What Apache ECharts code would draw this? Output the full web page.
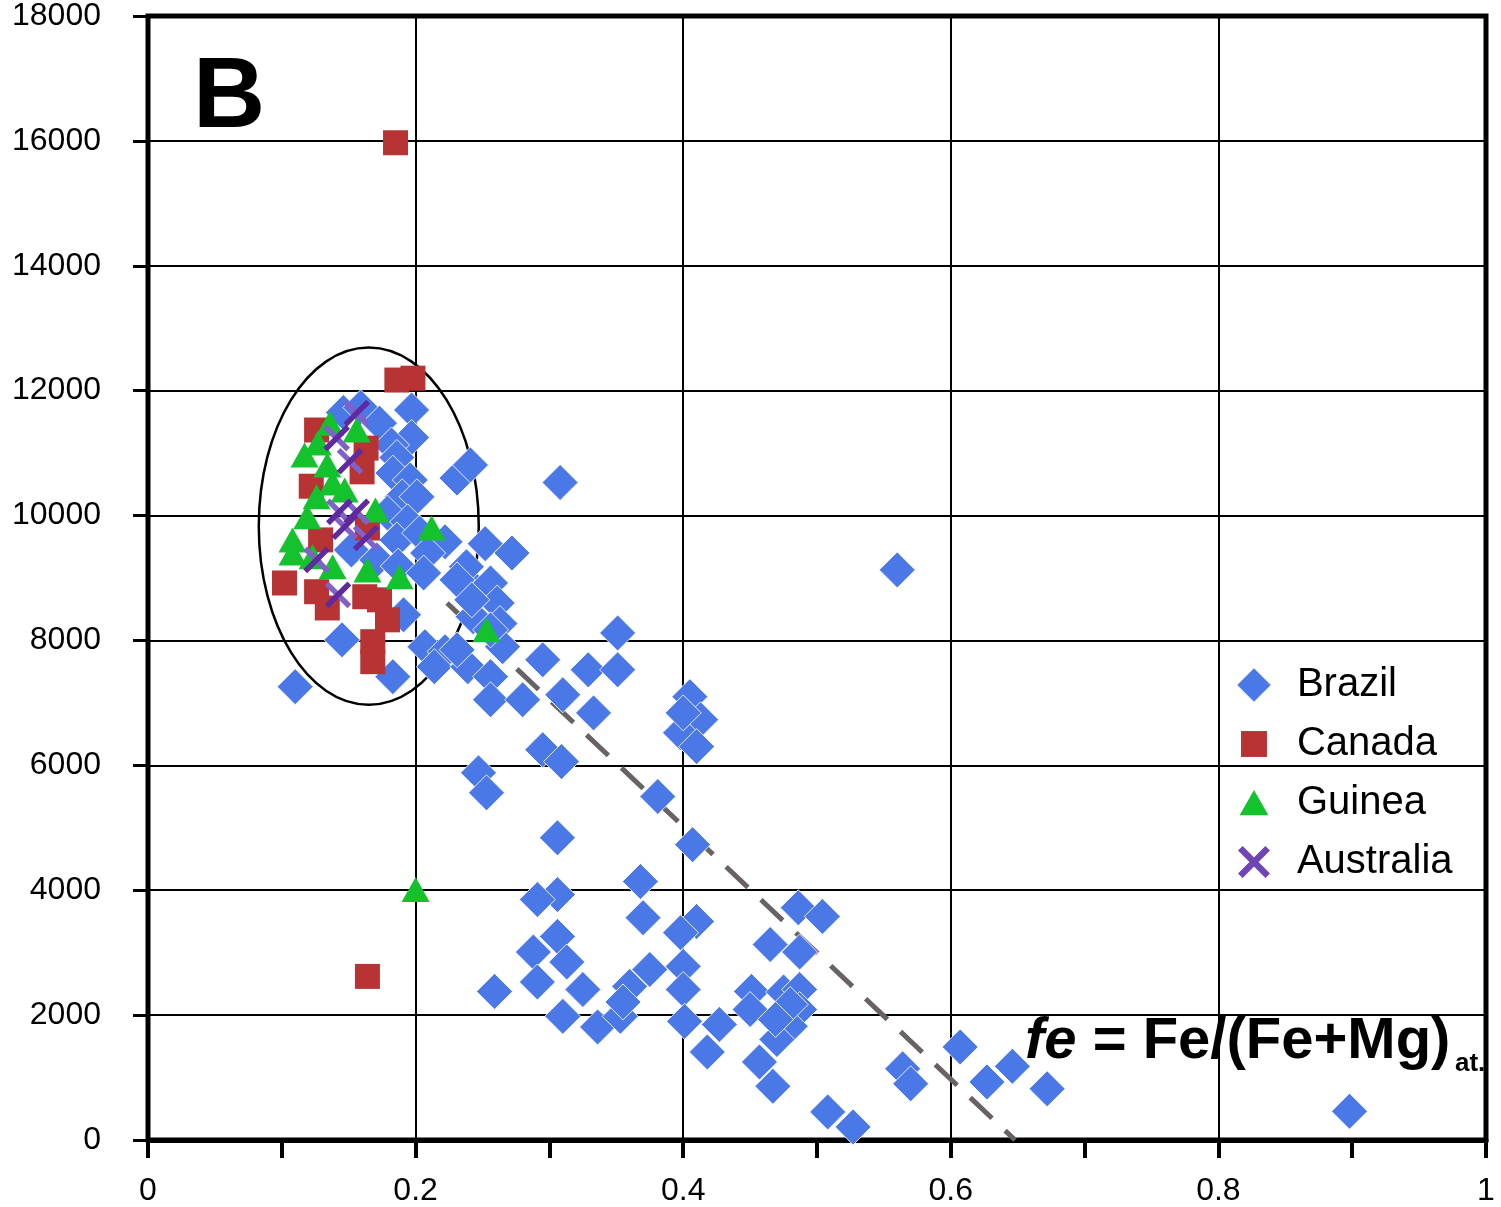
<!DOCTYPE html>
<html>
<head>
<meta charset="utf-8">
<script src="https://cdn.jsdelivr.net/npm/echarts@6/dist/echarts.min.js"></script>
<style>
  html, body { margin: 0; padding: 0; background: #fff; }
  #chart { width: 1501px; height: 1207px; }
</style>
</head>
<body>
<div id="chart"></div>
<script>
// fe = Fe/(Fe+Mg) atomic ratio (x) against the plotted value (y), by locality
const brazil = [
  [0.110, 7260], [0.145, 8010], [0.183, 7420], [0.191, 8410], [0.152, 9450],
  [0.146, 11650], [0.159, 11730], [0.173, 11480], [0.197, 11690], [0.197, 11250],
  [0.182, 11130], [0.186, 10930], [0.183, 10680], [0.196, 10570], [0.190, 10300],
  [0.201, 10300], [0.179, 10040], [0.194, 9900], [0.186, 9610], [0.203, 9720],
  [0.222, 9580], [0.252, 9550], [0.272, 9400], [0.171, 9290], [0.187, 9190],
  [0.209, 9400], [0.206, 9080], [0.231, 10600], [0.241, 10810], [0.308, 10530],
  [0.241, 8890], [0.256, 8920], [0.261, 8600], [0.243, 8380], [0.263, 8270],
  [0.207, 7900], [0.222, 7820], [0.214, 7580], [0.239, 7580], [0.265, 7900],
  [0.256, 7420], [0.256, 7050], [0.280, 7050], [0.295, 7690], [0.310, 7130],
  [0.329, 7530], [0.351, 8120], [0.351, 7530], [0.333, 6840], [0.405, 7100],
  [0.413, 6730], [0.398, 6520], [0.410, 6300], [0.400, 6840], [0.295, 6250],
  [0.309, 6060], [0.247, 5880], [0.253, 5560], [0.381, 5500], [0.407, 4730],
  [0.306, 4840], [0.368, 4140], [0.370, 3560], [0.306, 3930], [0.291, 3850],
  [0.410, 3500], [0.398, 3320], [0.306, 3260], [0.288, 3010], [0.313, 2850],
  [0.291, 2530], [0.325, 2410], [0.259, 2380], [0.310, 1980], [0.336, 1810],
  [0.353, 1980], [0.360, 2460], [0.375, 2730], [0.400, 2780], [0.400, 2410],
  [0.401, 1900], [0.427, 1850], [0.418, 1410], [0.465, 3130], [0.486, 3720],
  [0.504, 3580], [0.487, 3010], [0.451, 2380], [0.450, 2090], [0.475, 2370],
  [0.487, 2410], [0.487, 2090], [0.480, 1820], [0.470, 1610], [0.457, 1250],
  [0.467, 860], [0.508, 450], [0.527, 210], [0.560, 9130], [0.564, 1140],
  [0.570, 900], [0.607, 1490], [0.627, 930], [0.646, 1180], [0.672, 820],
  [0.898, 460], [0.480, 2170], [0.469, 1930], [0.238, 9180], [0.231, 8970],
  [0.256, 8170], [0.242, 8650], [0.231, 7850], [0.355, 2210]
];
const canada = [
  [0.185, 15970], [0.186, 12170], [0.198, 12200], [0.126, 11370], [0.163, 11080],
  [0.160, 10700], [0.122, 10470], [0.164, 9800], [0.129, 9610], [0.102, 8920],
  [0.126, 8780], [0.134, 8520], [0.162, 8700], [0.173, 8650], [0.179, 8330],
  [0.168, 7980], [0.168, 7660], [0.164, 2620]
];
const guinea = [
  [0.136, 11480], [0.156, 11370], [0.117, 10970], [0.127, 11160], [0.134, 10810],
  [0.138, 10520], [0.147, 10410], [0.126, 10300], [0.170, 10090], [0.119, 9980],
  [0.108, 9610], [0.108, 9400], [0.123, 9340], [0.138, 9180], [0.164, 9130],
  [0.188, 9020], [0.212, 9800], [0.253, 8170], [0.200, 4010]
];
const australia = [
  [0.156, 11640], [0.141, 11240], [0.151, 10870], [0.143, 10060], [0.156, 10060],
  [0.147, 9820], [0.163, 9640], [0.126, 9290], [0.142, 8730]
];
// dashed trend: end points of the line
const trend = [[0.2235, 8600], [0.648, 0]];
// grouping ellipse: centre fe, centre value, half-width (fe), half-height (value)
const groupEllipse = [[0.165, 9830, 0.0822, 2860]];

const xTickValues = [0, 0.2, 0.4, 0.6, 0.8, 1];
const yTickValues = [0, 2000, 4000, 6000, 8000, 10000, 12000, 14000, 16000, 18000];

const FONT = '"Liberation Sans", Arial, Helvetica, sans-serif';
const C_BRAZIL = '#4a78e6';
const C_CANADA = '#b83333';
const C_GUINEA = '#14c22e';
const C_AUS_DARK = '#5f2a9e';
const C_AUS_LIGHT = '#8060c9';
const C_AUS = '#6f45b5';

// cross arms drawn inside a 100x100 box
const BAR_DOWN = 'M18.4 5.6L94.4 81.6L81.6 94.4L5.6 18.4Z';
const BAR_UP = 'M81.6 5.6L94.4 18.4L18.4 94.4L5.6 81.6Z';

const chart = echarts.init(document.getElementById('chart'), null, { renderer: 'canvas' });

const option = {
  animation: false,
  backgroundColor: '#fff',
  grid: {
    left: 148, right: 15, top: 15, bottom: 66,
    show: true, borderColor: '#000', borderWidth: 5, backgroundColor: 'transparent'
  },
  xAxis: {
    type: 'value', min: xTickValues[0], max: xTickValues[xTickValues.length - 1], interval: 0.2,
    axisLine: { show: true, onZero: false, lineStyle: { color: '#000', width: 5 } },
    axisTick: { show: true, length: 18, lineStyle: { color: '#000', width: 4 } },
    minorTick: { show: true, splitNumber: 2, length: 18, lineStyle: { color: '#000', width: 4 } },
    splitLine: { show: true, lineStyle: { color: '#000', width: 2 } },
    axisLabel: { color: '#000', fontFamily: FONT, fontSize: 32, margin: 35,
      formatter: v => String(+v.toFixed(1)) }
  },
  yAxis: {
    type: 'value', min: yTickValues[0], max: yTickValues[yTickValues.length - 1], interval: 2000,
    axisLine: { show: true, onZero: false, lineStyle: { color: '#000', width: 4 } },
    axisTick: { show: true, length: 15, lineStyle: { color: '#000', width: 3 } },
    splitLine: { show: true, lineStyle: { color: '#000', width: 2 } },
    axisLabel: { color: '#000', fontFamily: FONT, fontSize: 32, margin: 47,
      formatter: v => String(v) }
  },
  legend: {
    orient: 'vertical', left: 1230, top: 660, itemWidth: 56, itemHeight: 36, itemGap: 19,
    selectedMode: false,
    textStyle: { color: '#000', fontFamily: FONT, fontSize: 40, lineHeight: 40 },
    data: [
      { name: 'Brazil', icon: 'path://M0 0M155 100M50 0L100 50L50 100L0 50Z', itemStyle: { color: C_BRAZIL } },
      { name: 'Canada', icon: 'path://M0 0M155 100M14 14L86 14L86 86L14 86Z', itemStyle: { color: C_CANADA } },
      { name: 'Guinea', icon: 'path://M0 0M155 100M50 14L90 84L10 84Z', itemStyle: { color: C_GUINEA } },
      { name: 'Australia', icon: 'path://M0 0M155 100' + BAR_DOWN + BAR_UP, itemStyle: { color: C_AUS } }
    ]
  },
  graphic: [
    { type: 'text', x: 193, y: 99, silent: true,
      style: { text: 'B', font: 'bold 100px ' + FONT, fill: '#000', align: 'left', verticalAlign: 'middle' } },
    { type: 'text', x: 1025, y: 1042, silent: true,
      style: {
        text: '{i|fe}{n| = Fe/(Fe+Mg)}', align: 'left', verticalAlign: 'middle', fill: '#000',
        rich: {
          i: { fontFamily: FONT, fontSize: 58, fontWeight: 'bold', fontStyle: 'italic', fill: '#000' },
          n: { fontFamily: FONT, fontSize: 58, fontWeight: 'bold', fill: '#000' }
        }
      } },
    { type: 'text', x: 1455, y: 1064, silent: true,
      style: { text: 'at.', font: 'bold 26px ' + FONT, fill: '#000', align: 'left', verticalAlign: 'middle' } }
  ],
  series: [
    {
      type: 'custom', name: 'group', silent: true, data: groupEllipse, z: 1,
      renderItem: function (params, api) {
        const c = api.coord([api.value(0), api.value(1)]);
        const s = api.size([api.value(2), api.value(3)]);
        return {
          type: 'ellipse',
          shape: { cx: c[0], cy: c[1], rx: s[0], ry: s[1] },
          style: { fill: null, stroke: '#000', lineWidth: 2.5 }
        };
      }
    },
    {
      type: 'line', name: 'trend', data: trend, symbol: 'none', silent: true, z: 1,
      lineStyle: { color: '#686262', width: 5, type: [30, 18], cap: 'butt' }
    },
    {
      type: 'scatter', name: 'Brazil', data: brazil, symbol: 'diamond', symbolSize: 36, z: 2,
      itemStyle: { color: C_BRAZIL, borderColor: 'rgba(255,255,255,0.85)', borderWidth: 1, opacity: 1 }
    },
    {
      type: 'scatter', name: 'Canada', data: canada, symbol: 'rect', symbolSize: 25, z: 2,
      itemStyle: { color: C_CANADA, opacity: 1 }
    },
    {
      type: 'scatter', name: 'Guinea', data: guinea, symbol: 'triangle', symbolSize: [28, 25], z: 2,
      itemStyle: { color: C_GUINEA, opacity: 1 }
    },
    {
      type: 'scatter', name: 'Australia', data: australia, symbol: 'path://M0 0M100 100' + BAR_DOWN,
      symbolSize: 30, z: 2, itemStyle: { color: C_AUS_LIGHT, opacity: 1 }
    },
    {
      type: 'scatter', name: 'Australia', data: australia, symbol: 'path://M0 0M100 100' + BAR_UP,
      symbolSize: 30, z: 2, itemStyle: { color: C_AUS_DARK, opacity: 1 }
    }
  ]
};

chart.setOption(option);
</script>
</body>
</html>
